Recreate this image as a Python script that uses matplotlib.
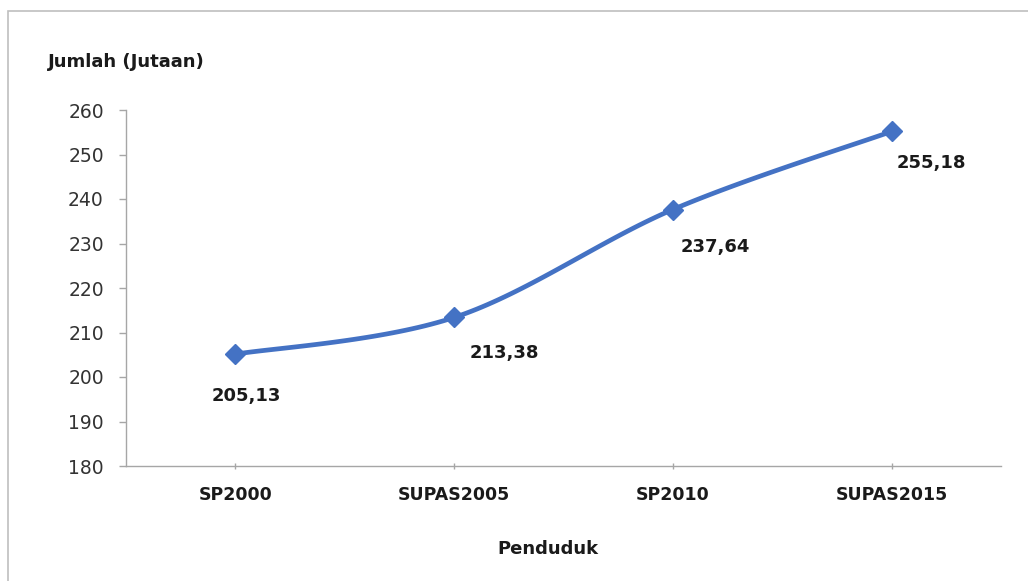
import numpy as np
import matplotlib.pyplot as plt
from matplotlib.patches import Rectangle

# Data
categories = ['SP2000', 'SUPAS2005', 'SP2010', 'SUPAS2015']
penduduk = [205.13, 213.38, 237.64, 255.18]
value_labels = ['205,13', '213,38', '237,64', '255,18']

yticks = [180, 190, 200, 210, 220, 230, 240, 250, 260]

# label placement (pixel offsets from each point)
label_offsets = [(11, -42), (50, -36), (42, -37), (40, -32)]

BLUE = '#4472C4'
GRAY = '#A6A6A6'


def smooth_curve(x, y, steps=40):
    """Catmull-Rom style smoothing like Excel's 'smoothed line'"""
    x = np.asarray(x, float)
    y = np.asarray(y, float)
    px = np.concatenate([[x[0]], x, [x[-1]]])
    py = np.concatenate([[y[0]], y, [y[-1]]])
    xs, ys = [], []
    t = np.linspace(0, 1, steps)
    for i in range(1, len(px) - 2):
        p0, p1, p2, p3 = [np.array([px[j], py[j]]) for j in range(i - 1, i + 3)]
        c1 = p1 + (p2 - p0) / 6
        c2 = p2 - (p3 - p1) / 6
        pts = ((1 - t) ** 3)[:, None] * p1 + (3 * (1 - t) ** 2 * t)[:, None] * c1 \
            + (3 * (1 - t) * t ** 2)[:, None] * c2 + (t ** 3)[:, None] * p2
        xs.extend(pts[:, 0])
        ys.extend(pts[:, 1])
    return xs, ys


fig = plt.figure(figsize=(10.28, 5.81), dpi=100)
ax = fig.add_axes([126 / 1028, 1 - 466 / 581, (1001 - 126) / 1028, (466 - 110) / 581])

xpos = np.arange(len(categories))
sx, sy = smooth_curve(xpos, penduduk)
ax.plot(sx, sy, color=BLUE, linewidth=3.4, solid_capstyle='round', zorder=2)
ax.plot(xpos, penduduk, linestyle='none', marker='D', markersize=10.5,
        color=BLUE, zorder=3)

for xi, yi, lab, off in zip(xpos, penduduk, value_labels, label_offsets):
    ax.annotate(lab, (xi, yi), xytext=off, textcoords='offset pixels',
                ha='center', va='center', fontsize=13, fontweight='bold',
                color='#1a1a1a')

ax.set_xlim(-0.5, len(categories) - 0.5)
ax.set_ylim(180, 260)
ax.set_yticks(yticks)
ax.set_xticks(xpos)
ax.set_xticklabels(categories, fontsize=12.5, fontweight='bold', color='#1a1a1a')
ax.tick_params(axis='y', labelsize=13.5, colors=GRAY, labelcolor='#333333',
               length=5, width=1, pad=11)
ax.tick_params(axis='x', direction='inout', length=5, width=1, colors=GRAY,
               labelcolor='#1a1a1a', pad=12)

for side in ['top', 'right']:
    ax.spines[side].set_visible(False)
for side in ['left', 'bottom']:
    ax.spines[side].set_color(GRAY)
    ax.spines[side].set_linewidth(1)

fig.text(48 / 1028, 1 - 62 / 581, 'Jumlah (Jutaan)', fontsize=13,
         fontweight='bold', color='#1a1a1a', va='center', ha='left')
fig.text(548 / 1028, 1 - 549 / 581, 'Penduduk', fontsize=13,
         fontweight='bold', color='#1a1a1a', va='center', ha='center')

# outer chart border
fig.patches.append(Rectangle((8 / 1028, -0.1), 1.2, 1 - 11 / 581 + 0.1,
                             transform=fig.transFigure, fill=False,
                             edgecolor='#BFBFBF', linewidth=1.2))

fig.savefig('out.png', dpi=100)
